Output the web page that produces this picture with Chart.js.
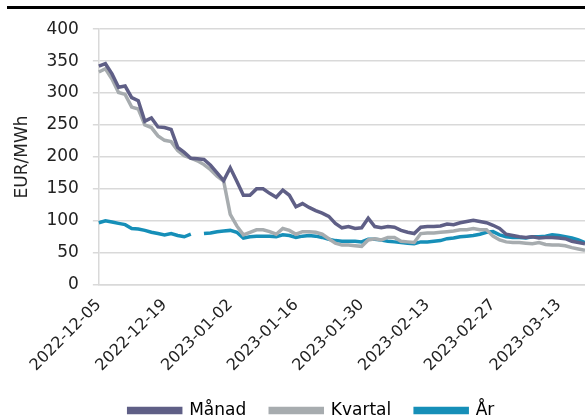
<!DOCTYPE html>
<html lang="sv">
<head>
<meta charset="UTF-8">
<title>Gaspriser</title>
<style>
  html, body { margin: 0; padding: 0; background: #fff; overflow: hidden; }
  .rule { position: absolute; left: 7px; top: 6px; width: 578px; height: 3px; background: #000; }
  .wrap { position: absolute; left: 0; top: 5px; width: 585px; height: 411px; overflow: hidden; }
  canvas { display: block; }
</style>
</head>
<body>
<div class="rule"></div>
<div class="wrap"><canvas id="myChart" width="585" height="424"></canvas></div>

<script src="https://cdn.jsdelivr.net/npm/chart.js"></script>
<script>
// handelsdagar (vardagar), 2022-12-05 .. 2023-03-17
const dagar = [
  '2022-12-05','2022-12-06','2022-12-07','2022-12-08','2022-12-09',
  '2022-12-12','2022-12-13','2022-12-14','2022-12-15','2022-12-16',
  '2022-12-19','2022-12-20','2022-12-21','2022-12-22','2022-12-23',
  '2022-12-26','2022-12-27','2022-12-28','2022-12-29','2022-12-30',
  '2023-01-02','2023-01-03','2023-01-04','2023-01-05','2023-01-06',
  '2023-01-09','2023-01-10','2023-01-11','2023-01-12','2023-01-13',
  '2023-01-16','2023-01-17','2023-01-18','2023-01-19','2023-01-20',
  '2023-01-23','2023-01-24','2023-01-25','2023-01-26','2023-01-27',
  '2023-01-30','2023-01-31','2023-02-01','2023-02-02','2023-02-03',
  '2023-02-06','2023-02-07','2023-02-08','2023-02-09','2023-02-10',
  '2023-02-13','2023-02-14','2023-02-15','2023-02-16','2023-02-17',
  '2023-02-20','2023-02-21','2023-02-22','2023-02-23','2023-02-24',
  '2023-02-27','2023-02-28','2023-03-01','2023-03-02','2023-03-03',
  '2023-03-06','2023-03-07','2023-03-08','2023-03-09','2023-03-10',
  '2023-03-13','2023-03-14','2023-03-15','2023-03-16','2023-03-17'
];

// EUR/MWh
const manad = [
  342, 346, 330, 309, 311, 293, 288, 256, 261, 247,
  246, 243, 215, 207, 198, 197, 196, 187, 175, 163,
  183, 162, 140, 140, 150, 150, 143, 137, 148, 140,
  122, 127, 121, 116, 112, 107, 96, 89, 91, 88,
  89, 104, 91, 89, 91, 90, 85, 82, 80, 90,
  91, 91, 92, 95, 94, 97, 99, 101, 99, 97,
  93, 88, 79, 77, 75, 74, 75, 73, 74, 74,
  73, 72, 68, 66, 64
];
const kvartal = [
  333, 338, 322, 301, 298, 278, 275, 250, 246, 233,
  226, 224, 210, 202, 198, 194, 188, 180, 170, 162,
  110, 92, 78, 82, 86, 86, 83, 79, 88, 85,
  79, 83, 83, 82, 79, 72, 65, 62, 62, 61,
  60, 70, 72, 70, 74, 74, 68, 67, 66, 80,
  81, 81, 82, 83, 84, 86, 86, 88, 86, 86,
  76, 70, 67, 66, 66, 65, 64, 66, 63, 62,
  62, 61, 58, 56, 54
];
const ar = [
  97, 100, 98, 96, 94, 88, 87, 85, 82, 80,
  78, 80, 77, 75, 79, null, 80, 81, 83, 84,
  85, 82, 73, 75, 76, 76, 76, 75, 78, 77,
  74, 76, 77, 76, 74, 71, 69, 68, 68, 68,
  67, 71, 71, 70, 68, 67, 66, 65, 64, 67,
  67, 68, 69, 72, 73, 75, 76, 77, 79, 82,
  83, 78, 75, 74, 74, 73, 75, 75, 76, 78,
  77, 75, 73, 70, 66
];

const yTicks = [0, 50, 100, 150, 200, 250, 300, 350, 400];

const FONT = 'DejaVu Sans';
const TEXT = '#222';
const GRID = '#d9d9d9';

function serie(label, data, color) {
  return {
    label: label,
    data: data,
    borderColor: color,
    backgroundColor: color,
    borderWidth: 3.5,
    pointRadius: 0,
    tension: 0,
    spanGaps: false
  };
}

// förklaringen sitter lite till höger om mitten
const legendOffset = {
  id: 'legendOffset',
  afterLayout(chart) {
    chart.legend.left += 13;
    chart.legend.right += 13;
  }
};

const ctx = document.getElementById('myChart');

new Chart(ctx, {
  type: 'line',
  data: {
    labels: dagar,
    datasets: [
      serie('Månad', manad, '#5f5f86'),
      serie('Kvartal', kvartal, '#a7acaf'),
      serie('År', ar, '#168fb8')
    ]
  },
  plugins: [legendOffset],
  options: {
    responsive: false,
    animation: false,
    layout: { padding: { left: 12, right: 0, top: 0, bottom: 0 } },
    plugins: {
      tooltip: { enabled: false },
      legend: {
        position: 'bottom',
        labels: {
          boxWidth: 52,
          boxHeight: 4,
          padding: 24,
          color: '#000',
          font: { family: FONT, size: 17 }
        }
      }
    },
    scales: {
      x: {
        // serien fortsätter ut till högerkanten
        afterFit: function(scale) { scale.paddingRight = 0; },
        grid: { display: false },
        border: { display: true, color: GRID, width: 1.5 },
        ticks: {
          autoSkip: false,
          maxRotation: 45,
          minRotation: 45,
          padding: 3,
          color: TEXT,
          font: { family: FONT, size: 16 },
          callback: function(v, i) { return i % 10 === 0 ? dagar[i] : ''; }
        }
      },
      y: {
        min: yTicks[0],
        max: yTicks[yTicks.length - 1],
        afterBuildTicks: function(axis) { axis.ticks = yTicks.map(v => ({ value: v })); },
        grid: { color: GRID, lineWidth: 1.5, tickLength: 6 },
        border: { color: GRID, width: 1.5 },
        ticks: {
          padding: 14,
          color: TEXT,
          font: { family: FONT, size: 17 }
        },
        title: {
          display: true,
          text: 'EUR/MWh',
          color: TEXT,
          padding: { top: 0, bottom: 0 },
          font: { family: FONT, size: 17 }
        }
      }
    }
  }
});
</script>
</body>
</html>
